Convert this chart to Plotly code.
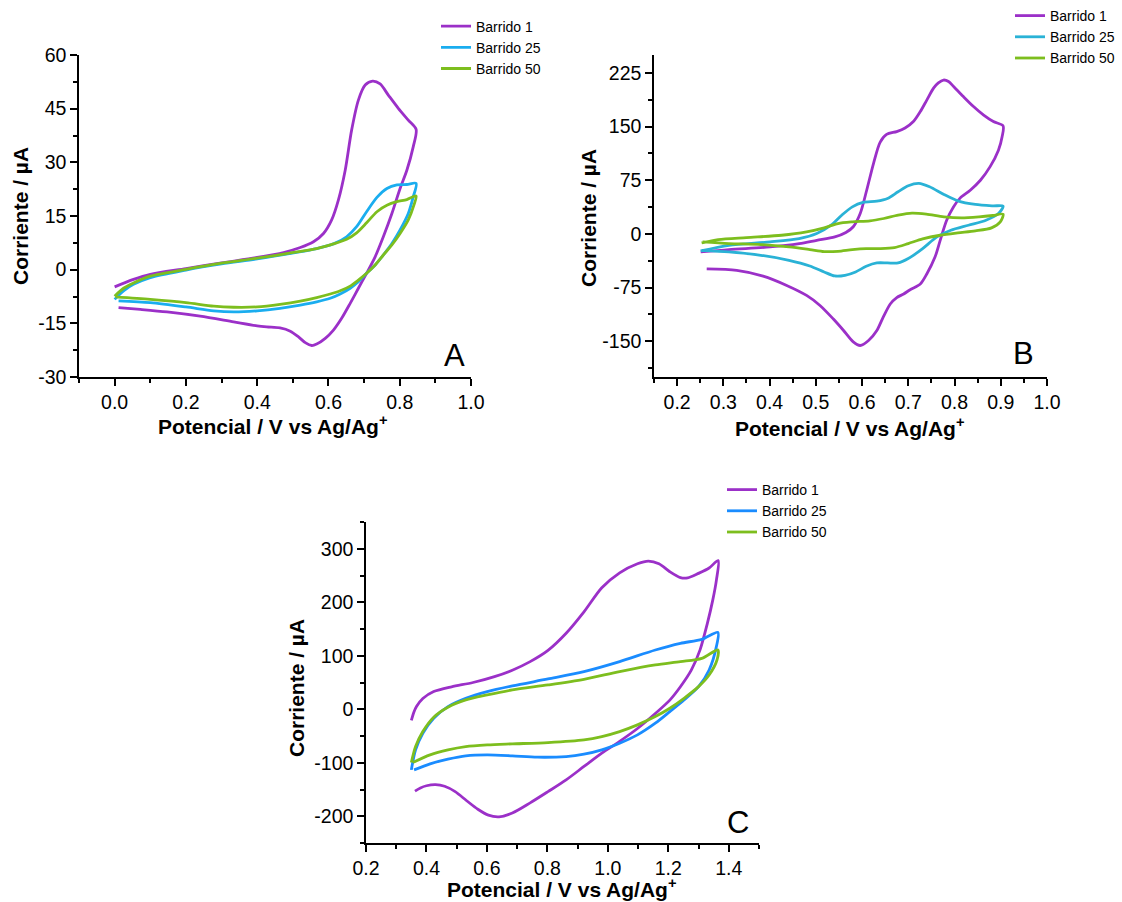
import plotly.graph_objects as go

# ---------------- Panel A ----------------
a_b1_v = [0.000, 0.053, 0.100, 0.200, 0.300, 0.400, 0.474, 0.521, 0.558, 0.586, 0.609, 0.628, 0.647, 0.665,
          0.684, 0.703, 0.724, 0.745, 0.768, 0.796, 0.824, 0.846,
          0.838, 0.820, 0.801, 0.778, 0.754, 0.731, 0.707, 0.684, 0.661, 0.637, 0.614, 0.591, 0.567, 0.553,
          0.535, 0.516, 0.493, 0.464, 0.427, 0.400, 0.334, 0.240, 0.147, 0.072, 0.011]
a_b1_i = [-4.8, -2.7, -1.3, 0.3, 1.9, 3.4, 4.8, 6.2, 7.8, 10.1, 13.9, 19.5, 27.8, 39.0,
          47.4, 51.6, 52.7, 51.9, 48.8, 45.1, 41.8, 39.2,
          34.4, 27.8, 22.7, 15.7, 9.2, 3.6, -1.0, -5.2, -9.4, -13.6, -16.9, -19.2, -20.8, -21.2,
          -20.4, -18.8, -17.2, -16.3, -16.0, -15.7, -14.6, -13.0, -11.8, -11.1, -10.6]

a_b25_v = [0.000, 0.025, 0.053, 0.100, 0.200, 0.300, 0.400, 0.502, 0.567, 0.614, 0.651, 0.679, 0.707, 0.736,
           0.764, 0.792, 0.820, 0.846,
           0.838, 0.824, 0.801, 0.778, 0.754, 0.731, 0.707, 0.684, 0.661, 0.633, 0.605, 0.567, 0.521, 0.464,
           0.400, 0.334, 0.278, 0.200, 0.100, 0.011]
a_b25_i = [-8.3, -5.9, -4.1, -2.2, -0.1, 1.6, 3.0, 4.7, 5.9, 7.2, 9.2, 12.0, 16.2, 20.2,
           22.7, 23.7, 23.8, 24.1,
           20.4, 15.7, 11.1, 7.3, 4.1, 1.3, -1.0, -3.4, -5.2, -6.8, -8.0, -9.0, -9.9, -10.8,
           -11.5, -11.8, -11.5, -10.4, -9.2, -8.7]

a_b50_v = [0.000, 0.025, 0.053, 0.100, 0.200, 0.300, 0.400, 0.502, 0.567, 0.614, 0.651, 0.679, 0.707, 0.736,
           0.764, 0.792, 0.820, 0.846,
           0.840, 0.824, 0.801, 0.778, 0.754, 0.731, 0.707, 0.684, 0.661, 0.633, 0.605, 0.567, 0.521, 0.464,
           0.400, 0.334, 0.278, 0.200, 0.100, 0.002]
a_b50_i = [-7.4, -5.2, -3.7, -1.8, 0.1, 1.8, 3.2, 4.8, 5.9, 7.2, 8.5, 10.3, 13.1, 16.2,
           18.0, 19.0, 19.6, 20.6,
           18.1, 13.9, 10.1, 6.9, 4.1, 1.3, -1.0, -2.9, -4.6, -5.9, -6.8, -7.8, -8.8, -9.7,
           -10.4, -10.5, -10.2, -9.2, -8.3, -7.6]

# ---------------- Panel B ----------------
b_b1_v = [0.251, 0.312, 0.401, 0.464, 0.502, 0.541, 0.565, 0.581, 0.596, 0.610, 0.625, 0.639, 0.653, 0.675,
          0.693, 0.711, 0.726, 0.740, 0.755, 0.765, 0.776, 0.787, 0.798, 0.819, 0.841, 0.863, 0.884, 0.905,
          0.903, 0.895, 0.877, 0.856, 0.834, 0.812, 0.798, 0.783, 0.769, 0.758, 0.740, 0.726, 0.704, 0.690,
          0.675, 0.661, 0.646, 0.632, 0.614, 0.596, 0.581, 0.560, 0.538, 0.509, 0.480, 0.437, 0.386, 0.329,
          0.264]
b_b1_i = [-25.2, -21.9, -18.2, -13.5, -8.9, -4.2, 2.0, 10.0, 28.5, 61.0, 99.0, 128.0, 139.0, 143.0,
          148.0, 157.0, 171.0, 187.0, 204.0, 211.0, 215.0, 213.0, 206.0, 192.0, 178.0, 166.0, 157.0, 151.0,
          136.0, 117.0, 94.0, 75.0, 61.0, 50.0, 38.0, 19.0, -9.0, -32.0, -56.0, -70.0, -78.0, -84.0,
          -89.0, -98.0, -116.0, -135.0, -149.0, -156.0, -151.0, -135.0, -119.0, -100.0, -86.0, -72.0, -59.0, -51.0,
          -49.0]

b_b25_v = [0.251, 0.312, 0.401, 0.464, 0.502, 0.533, 0.556, 0.579, 0.602, 0.632, 0.655, 0.678, 0.700, 0.723,
           0.746, 0.777, 0.807, 0.845, 0.883, 0.905,
           0.895, 0.868, 0.830, 0.792, 0.762, 0.731, 0.700, 0.678, 0.655, 0.632, 0.609, 0.586, 0.563, 0.541,
           0.518, 0.487, 0.442, 0.381, 0.312, 0.255]
b_b25_i = [-23.8, -15.9, -11.2, -6.5, 0.5, 12.1, 26.1, 37.8, 43.9, 45.7, 49.5, 58.8, 67.2, 70.5,
           65.8, 55.1, 46.2, 41.1, 39.2, 38.7,
           28.5, 19.1, 12.1, 5.1, -4.2, -20.5, -34.5, -40.6, -40.6, -40.6, -45.3, -53.2, -57.9, -58.8,
           -53.2, -44.8, -36.9, -29.9, -25.2, -22.9]

b_b50_v = [0.253, 0.289, 0.350, 0.426, 0.480, 0.518, 0.548, 0.579, 0.617, 0.647, 0.678, 0.708, 0.739, 0.777,
           0.815, 0.853, 0.883, 0.905,
           0.899, 0.880, 0.845, 0.807, 0.769, 0.731, 0.700, 0.670, 0.640, 0.609, 0.579, 0.548, 0.518, 0.487,
           0.442, 0.381, 0.312, 0.255]
b_b50_i = [-12.6, -7.9, -5.1, -1.9, 2.8, 8.4, 14.5, 16.8, 18.2, 21.5, 26.1, 28.9, 27.5, 23.8,
           22.4, 23.8, 25.7, 27.5,
           16.8, 8.4, 4.2, 1.4, -1.9, -7.0, -13.5, -19.1, -20.5, -20.5, -21.9, -24.3, -24.7, -21.9,
           -18.2, -14.9, -13.5, -11.2]

# ---------------- Panel C ----------------
c_b1_v = [0.350, 0.358, 0.367, 0.388, 0.424, 0.483, 0.554, 0.625, 0.684, 0.743, 0.802, 0.862, 0.921, 0.980,
          1.039, 1.098, 1.134, 1.169, 1.205, 1.240, 1.264, 1.300, 1.335, 1.365,
          1.359, 1.347, 1.329, 1.305, 1.276, 1.240, 1.205, 1.157, 1.098, 1.039, 0.980, 0.921, 0.862, 0.802,
          0.743, 0.684, 0.640, 0.605, 0.570, 0.533, 0.495, 0.460, 0.430, 0.400, 0.380, 0.362]
c_b1_i = [-21.0, -6.0, 5.0, 20.0, 33.0, 42.0, 50.0, 61.0, 73.0, 89.0, 110.0, 142.0, 182.0, 227.0,
          255.0, 272.0, 277.0, 272.0, 257.0, 246.0, 245.5, 254.0, 264.0, 278.0,
          241.0, 204.0, 160.0, 111.0, 73.0, 42.0, 17.0, -8.0, -36.0, -60.0, -82.0, -107.0, -132.0, -154.0,
          -175.0, -194.0, -201.0, -198.0, -187.0, -171.0, -154.0, -144.0, -141.0, -143.0, -147.0, -153.0]

c_b25_v = [0.350, 0.364, 0.388, 0.424, 0.471, 0.530, 0.601, 0.684, 0.802, 0.921, 1.039, 1.157, 1.240, 1.311,
           1.364,
           1.359, 1.335, 1.300, 1.252, 1.205, 1.157, 1.098, 1.039, 0.980, 0.921, 0.862, 0.767, 0.684, 0.601,
           0.530, 0.471, 0.412, 0.359]
c_b25_i = [-113.3, -75.9, -44.8, -16.8, 5.0, 20.5, 33.0, 43.6, 56.6, 70.3, 89.0, 110.8, 123.2, 130.7,
           143.7,
           117.0, 73.4, 42.3, 17.4, -4.4, -26.1, -47.9, -63.5, -75.9, -84.0, -88.4, -89.6, -87.1, -85.3,
           -87.1, -93.3, -102.1, -113.3]

c_b50_v = [0.350, 0.364, 0.388, 0.424, 0.471, 0.530, 0.601, 0.684, 0.802, 0.921, 1.039, 1.157, 1.240, 1.311,
           1.364,
           1.361, 1.335, 1.300, 1.252, 1.205, 1.157, 1.098, 1.039, 0.980, 0.921, 0.802, 0.684, 0.601, 0.530,
           0.471, 0.412, 0.355]
c_b50_i = [-99.6, -69.7, -41.7, -14.9, 3.7, 17.4, 26.8, 36.1, 45.4, 56.0, 70.3, 82.8, 89.0, 95.2,
           110.8,
           92.1, 64.1, 42.3, 20.5, 1.9, -13.7, -29.2, -41.7, -51.0, -57.2, -62.2, -64.7, -66.6, -69.7,
           -75.9, -85.3, -99.6]

series_names = ["Barrido 1", "Barrido 25", "Barrido 50"]

# tick positions per panel
a_yticks = [-30, -15, 0, 15, 30, 45, 60]
a_xticks = [0.0, 0.2, 0.4, 0.6, 0.8, 1.0]
b_yticks = [-150, -75, 0, 75, 150, 225]
b_xticks = [0.2, 0.3, 0.4, 0.5, 0.6, 0.7, 0.8, 0.9, 1.0]
c_yticks = [-200, -100, 0, 100, 200, 300]
c_xticks = [0.2, 0.4, 0.6, 0.8, 1.0, 1.2, 1.4]

PURPLE = "#9B30C8"
GREEN = "#7DBE1E"
BLUE_A = "#1AADEF"
BLUE_B = "#2AB2D6"
BLUE_C = "#1A8CFF"

FONT = "Liberation Sans, Arial, sans-serif"
W, H = 1122, 902

fig = go.Figure()

panels = [
    ("x", "y", "legend", [(a_b1_v, a_b1_i, PURPLE), (a_b25_v, a_b25_i, BLUE_A), (a_b50_v, a_b50_i, GREEN)]),
    ("x2", "y2", "legend2", [(b_b1_v, b_b1_i, PURPLE), (b_b25_v, b_b25_i, BLUE_B), (b_b50_v, b_b50_i, GREEN)]),
    ("x3", "y3", "legend3", [(c_b1_v, c_b1_i, PURPLE), (c_b25_v, c_b25_i, BLUE_C), (c_b50_v, c_b50_i, GREEN)]),
]

for xa, ya, leg, curves in panels:
    for name, (v, i, col) in zip(series_names, curves):
        fig.add_trace(go.Scatter(
            x=v, y=i, mode="lines", name=name, xaxis=xa, yaxis=ya, legend=leg,
            line=dict(color=col, width=2.8, shape="spline", smoothing=0.8),
        ))


def px_x(p):
    return p / W


def px_y(p):
    return 1 - p / H


def int_label(t):
    return "%g" % t


def one_dec(t):
    return "%.1f" % t


def axis(domain, rng, ticks, minor_dtick, anchor, labeler):
    return dict(
        domain=domain, range=rng, anchor=anchor,
        showgrid=False, zeroline=False,
        showline=True, linecolor="black", linewidth=1.5,
        ticks="outside", ticklen=7, tickwidth=1.5, tickcolor="black",
        tickvals=ticks, ticktext=[labeler(t) for t in ticks],
        tickfont=dict(family=FONT, size=19.5, color="black"),
        minor=dict(ticks="outside", ticklen=4, tickwidth=1.5, tickcolor="black",
                   dtick=minor_dtick, tick0=0, showgrid=False),
    )


ya_dom = [px_y(377), px_y(55)]
yc_dom = [px_y(843), px_y(522)]

fig.update_layout(
    width=W, height=H,
    margin=dict(l=0, r=0, t=0, b=0, autoexpand=False),
    paper_bgcolor="white", plot_bgcolor="white",
    font=dict(family=FONT, color="black"),
    xaxis=axis([px_x(79), px_x(471)], [-0.1, 1.0], a_xticks, 0.1, "y", one_dec),
    yaxis=axis(ya_dom, [-30, 60], a_yticks, 7.5, "x", int_label),
    xaxis2=axis([px_x(654), px_x(1047)], [0.15, 1.0], b_xticks, 0.05, "y2", one_dec),
    yaxis2=axis(ya_dom, [-200, 250], b_yticks, 37.5, "x2", int_label),
    xaxis3=axis([px_x(366), px_x(759)], [0.2, 1.5], c_xticks, 0.1, "y3", one_dec),
    yaxis3=axis(yc_dom, [-250, 350], c_yticks, 50, "x3", int_label),
    showlegend=True,
)

leg_common = dict(xanchor="left", yanchor="top", bgcolor="rgba(0,0,0,0)", borderwidth=0,
                  font=dict(family=FONT, size=14, color="black"), itemwidth=30,
                  tracegroupgap=0)
fig.update_layout(
    legend=dict(x=px_x(436), y=px_y(10.5), **leg_common),
    legend2=dict(x=px_x(1010), y=px_y(0), **leg_common),
    legend3=dict(x=px_x(722), y=px_y(474), **leg_common),
)

xtitle = "<b>Potencial / V vs Ag/Ag<sup>+</sup></b>"
ytitle = "<b>Corriente / \u00b5A</b>"
title_font = dict(family=FONT, size=21, color="black")
letter_font = dict(family=FONT, size=31, color="black")

annotations = [
    # axis titles
    dict(text=xtitle, x=px_x(273), y=px_y(425), font=title_font),
    dict(text=ytitle, x=px_x(20), y=px_y(216), textangle=-90, font=title_font),
    dict(text=xtitle, x=px_x(850), y=px_y(427), font=title_font),
    dict(text=ytitle, x=px_x(588), y=px_y(218), textangle=-90, font=title_font),
    dict(text=xtitle, x=px_x(562), y=px_y(888), font=title_font),
    dict(text=ytitle, x=px_x(296), y=px_y(688), textangle=-90, font=title_font),
    # panel letters
    dict(text="A", x=px_x(454), y=px_y(355), font=letter_font),
    dict(text="B", x=px_x(1023), y=px_y(353), font=letter_font),
    dict(text="C", x=px_x(738), y=px_y(822), font=letter_font),
]
for a in annotations:
    a.update(xref="paper", yref="paper", xanchor="center", yanchor="middle", showarrow=False)
fig.update_layout(annotations=annotations)

fig.write_html("out.html")
